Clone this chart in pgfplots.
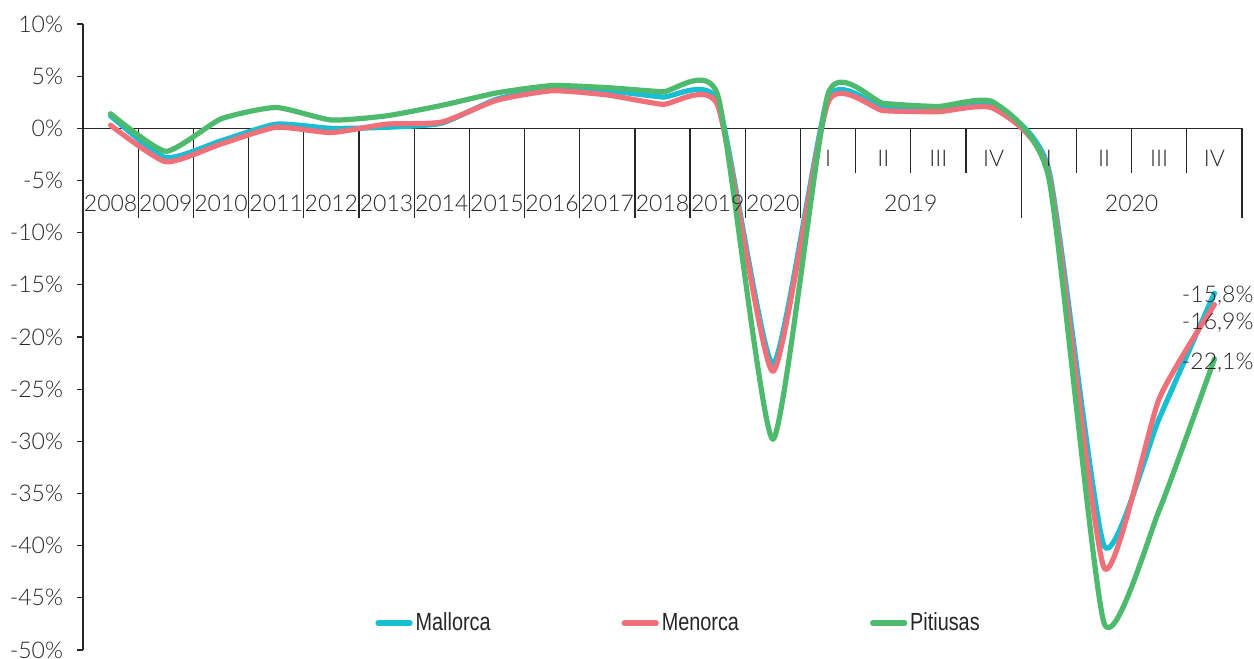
\documentclass[border=0pt]{standalone}
\usepackage{pgfplots}
\usepackage{pgfplotstable}
\pgfplotsset{compat=1.18}
\usepackage{fontspec}
\setmainfont{Lato Light}
\newfontfamily\narrowfont{Liberation Sans}[FakeStretch=0.8]

\definecolor{mallorca}{RGB}{24,190,210}
\definecolor{menorca}{RGB}{240,112,122}
\definecolor{pitiusas}{RGB}{78,186,110}

% x: 0..12 = 2008..2020 (annual), 13..16 = 2019 I-IV, 17..20 = 2020 I-IV
\pgfplotstableread{
x  mal    men    pit
0   1.2    0.3    1.4
1  -2.8   -3.2   -2.2
2  -1.2   -1.5    0.9
3   0.4    0.1    2.0
4   0.0   -0.4    0.8
5   0.1    0.4    1.2
6   0.5    0.6    2.2
7   2.8    2.7    3.4
8   3.8    3.6    4.1
9   3.6    3.2    3.9
10  3.0    2.3    3.5
11  2.6    2.2    3.2
12 -22.6  -23.3  -29.8
13  2.9    2.5    3.3
14  2.0    1.7    2.4
15  1.9    1.6    2.1
16  2.2    1.9    2.5
17 -4.0   -4.4   -4.8
18 -40.0  -42.1  -47.4
19 -27.8  -25.9  -36.6
20 -15.8  -16.9  -22.1
}\datatable

\begin{document}
\begin{tikzpicture}
\useasboundingbox (-41.5pt,-4.5pt) rectangle (585.5pt,325pt);
\begin{axis}[
  scale only axis, width=579.5pt, height=313pt,
  xmin=-0.5, xmax=20.5, ymin=-50, ymax=10,
  axis x line=none, axis y line*=left,
  axis line style={black!85, line width=0.6pt},
  ytick={-50,-45,...,10},
  yticklabels={-50\%,-45\%,-40\%,-35\%,-30\%,-25\%,-20\%,-15\%,-10\%,-5\%,0\%,5\%,10\%},
  tick align=outside, major tick length=3pt,
  tick style={black!85, line width=0.6pt},
  yticklabel style={xshift=-3.5pt, text=black!85},
  font=\fontsize{11.5}{13}\selectfont,
  clip=false,
  every axis plot/.append style={line width=2.6pt, smooth, tension=0.33, line cap=round, line join=round, mark=none},
  legend columns=3,
  legend style={at={(axis description cs:0.252,0.043)}, anchor=west, draw=none, fill=none,
    inner sep=0pt, font=\narrowfont\fontsize{12.4}{14}\selectfont, text=black!85,
    nodes={inner sep=1.5pt},
    /tikz/every even column/.append style={column sep=64pt}},
  legend image code/.code={\draw[#1] (0pt,0pt) -- (16pt,0pt);},
]
\draw[black!85, line width=0.6pt] (axis cs:-0.5,0) -- (axis cs:20.5,0);
\pgfplotsinvokeforeach{0.5,1.5,2.5,3.5,4.5,5.5,6.5,7.5,8.5,9.5,10.5,11.5,12.5,16.5,20.5}{
  \draw[black!85, line width=0.6pt] (axis cs:#1,0) -- (axis cs:#1,-8.63);
}
\pgfplotsinvokeforeach{13.5,14.5,15.5,17.5,18.5,19.5}{
  \draw[black!85, line width=0.6pt] (axis cs:#1,0) -- (axis cs:#1,-4.3);
}

\addplot[color=mallorca] table[x=x, y=mal] {\datatable};
\addlegendentry{Mallorca}
\addplot[color=menorca] table[x=x, y=men] {\datatable};
\addlegendentry{Menorca}
\addplot[color=pitiusas] table[x=x, y=pit] {\datatable};
\addlegendentry{Pitiusas}

\node[text=black!85] at (axis cs:0,-7.2) {2008};
\node[text=black!85] at (axis cs:1,-7.2) {2009};
\node[text=black!85] at (axis cs:2,-7.2) {2010};
\node[text=black!85] at (axis cs:3,-7.2) {2011};
\node[text=black!85] at (axis cs:4,-7.2) {2012};
\node[text=black!85] at (axis cs:5,-7.2) {2013};
\node[text=black!85] at (axis cs:6,-7.2) {2014};
\node[text=black!85] at (axis cs:7,-7.2) {2015};
\node[text=black!85] at (axis cs:8,-7.2) {2016};
\node[text=black!85] at (axis cs:9,-7.2) {2017};
\node[text=black!85] at (axis cs:10,-7.2) {2018};
\node[text=black!85] at (axis cs:11,-7.2) {2019};
\node[text=black!85] at (axis cs:12,-7.2) {2020};
\node[text=black!85] at (axis cs:13,-2.9) {I};
\node[text=black!85] at (axis cs:14,-2.9) {II};
\node[text=black!85] at (axis cs:15,-2.9) {III};
\node[text=black!85] at (axis cs:16,-2.9) {IV};
\node[text=black!85] at (axis cs:17,-2.9) {I};
\node[text=black!85] at (axis cs:18,-2.9) {II};
\node[text=black!85] at (axis cs:19,-2.9) {III};
\node[text=black!85] at (axis cs:20,-2.9) {IV};
\node[text=black!85] at (axis cs:14.5,-7.2) {2019};
\node[text=black!85] at (axis cs:18.5,-7.2) {2020};

\node[text=black!85] at (axis cs:20.06,-16.0) {-15,8\%};
\node[text=black!85] at (axis cs:20.06,-18.6) {-16,9\%};
\node[text=black!85] at (axis cs:20.06,-22.5) {-22,1\%};
\end{axis}
\end{tikzpicture}
\end{document}
